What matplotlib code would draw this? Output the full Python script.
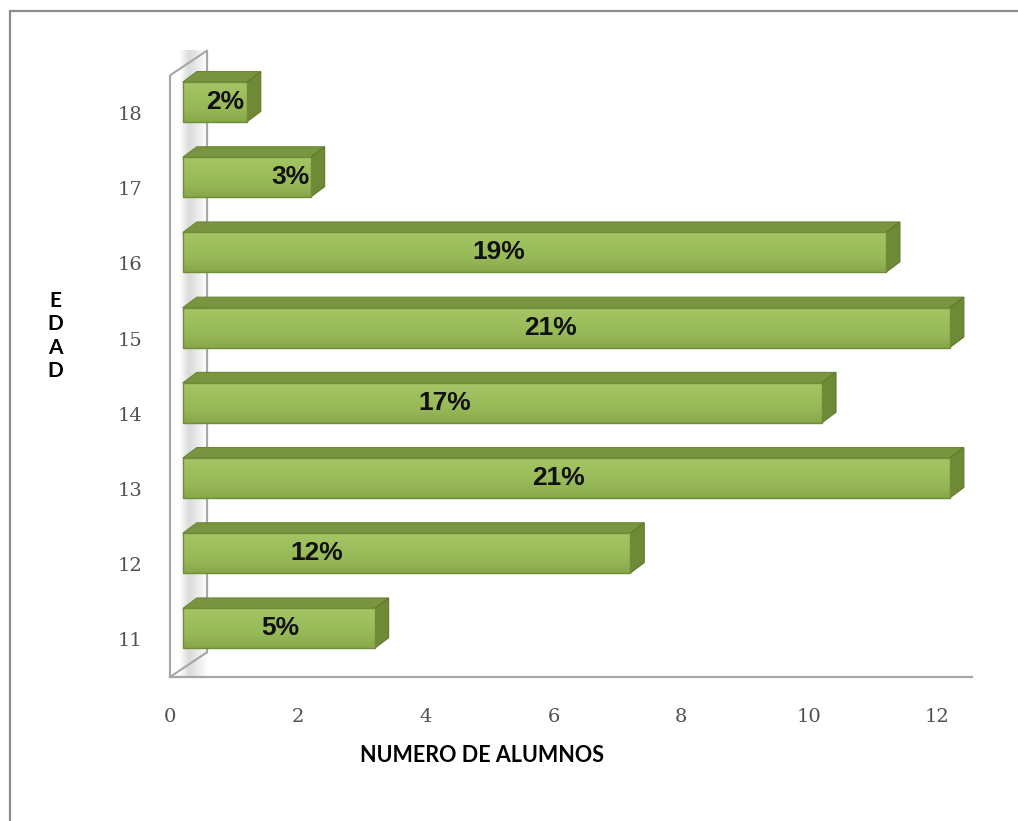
import numpy as np
import matplotlib.pyplot as plt
from matplotlib.patches import Polygon, Rectangle
from matplotlib.colors import LinearSegmentedColormap

# students per age
edades = [11, 12, 13, 14, 15, 16, 17, 18]
alumnos = [3, 7, 12, 10, 12, 11, 2, 1]
x_ticks = [0, 2, 4, 6, 8, 10, 12]

# where the percentage sits along each bar (fraction of bar length)
label_frac = [0.51, 0.30, 0.49, 0.41, 0.48, 0.45, 0.84, 0.66]

total = sum(alumnos)
pct = [round(100 * a / total) for a in alumnos]

W, H = 1018, 821
fig = plt.figure(figsize=(W / 100, H / 100), dpi=100)
fig.patch.set_facecolor('white')

# outer frame (runs off the right and bottom edges)
fig.add_artist(Rectangle((10 / W, -0.2), 1.3, 0.2 + 1 - 11 / H, transform=fig.transFigure,
                         fill=False, edgecolor='#8c8c8c', linewidth=1.6))

ax = fig.add_axes([170 / W, 1 - 677 / H, 767 / W, (677 - 75.4) / H])
ax.set_xlim(0, 12)
ax.set_ylim(10.5, 18.5)
for s in ax.spines.values():
    s.set_visible(False)
ax.set_facecolor('none')

# 3D depth of the wall / floor and of each bar
WX, WY = 0.58, 0.33
DX, DY = 0.22, 0.14
BAR_X0 = 0.2
BAR_H = 0.53
BAR_LIFT = 0.146

grey = '#a6a6a6'

# back wall, lightly shaded towards its back edge
wall_pts = [(0, 10.5), (0, 18.5), (WX, 18.5 + WY), (WX, 10.5 + WY)]
wall = Polygon(wall_pts, closed=True, facecolor='white', edgecolor='none',
               clip_on=False, zorder=1)
ax.add_patch(wall)
shade = LinearSegmentedColormap.from_list('shade', ['#ffffff', '#ffffff', '#dadada', '#ececec', '#ffffff'])
g = np.linspace(0, 1, 64).reshape(1, -1)
im = ax.imshow(g, cmap=shade, extent=(0, WX, 10.5, 18.5 + WY), aspect='auto',
               zorder=1.5, clip_on=False, interpolation='bicubic')
im.set_clip_path(wall)
wx, wy = zip(*(wall_pts + [wall_pts[0]]))
ax.plot(wx, wy, color=grey, linewidth=1.5, clip_on=False, zorder=2)

# floor
ax.plot([0, 12.55], [10.5, 10.5], color=grey, linewidth=1.6, clip_on=False, zorder=2)

front_cmap = LinearSegmentedColormap.from_list('front', ['#88a64a', '#97b857', '#9ebf5d', '#a5c565'])
fg = np.linspace(0, 1, 64).reshape(-1, 1)

for c, v, p, f in zip(edades, alumnos, pct, label_frac):
    yc = c + BAR_LIFT
    yb, yt = yc - BAR_H / 2, yc + BAR_H / 2
    x0, x1 = BAR_X0, BAR_X0 + v

    top = Polygon([(x0, yt), (x1, yt), (x1 + DX, yt + DY), (x0 + DX, yt + DY)],
                  closed=True, facecolor='#7a9540', edgecolor='#6c8636', linewidth=0.8,
                  clip_on=False, zorder=3)
    side = Polygon([(x1, yb), (x1, yt), (x1 + DX, yt + DY), (x1 + DX, yb + DY)],
                   closed=True, facecolor='#6e8a37', edgecolor='#5f7a2c', linewidth=0.8,
                   clip_on=False, zorder=3)
    ax.add_patch(top)
    ax.add_patch(side)

    front = Rectangle((x0, yb), v, BAR_H, facecolor='none', edgecolor='#6f8c38',
                      linewidth=1.0, clip_on=False, zorder=4.5)
    ax.add_patch(front)
    fim = ax.imshow(fg, cmap=front_cmap, extent=(x0, x1, yb, yt), aspect='auto',
                    origin='lower', zorder=4, clip_on=False, interpolation='bicubic')
    fim.set_clip_path(front)

    ax.text(x0 + f * v, yc, f'{p}%', ha='center', va='center', fontsize=19,
            fontweight='bold', family='Liberation Sans', color='#111111', zorder=5)

ax.set_xlim(0, 12)
ax.set_ylim(10.5, 18.5)

ax.set_xticks(x_ticks)
ax.set_xticklabels([str(t) for t in x_ticks])
ax.set_yticks(edades)
ax.set_yticklabels([str(e) for e in edades])
ax.tick_params(axis='both', length=0, labelsize=14, labelcolor='#505050')
ax.tick_params(axis='x', pad=22)
ax.tick_params(axis='y', pad=20)
for lab in ax.get_xticklabels() + ax.get_yticklabels():
    lab.set_family('DejaVu Serif')

fig.text(482 / W, 1 - 755 / H, 'NUMERO DE ALUMNOS', ha='center', va='center',
         fontsize=15.5, fontweight='bold', family='Lato', color='black')
fig.text(55 / W, 1 - 336 / H, 'E\nD\nA\nD', ha='center', va='center', fontsize=15,
         fontweight='bold', family='Lato', color='black', linespacing=1.2)

fig.savefig('out.png', dpi=100, facecolor='white')
